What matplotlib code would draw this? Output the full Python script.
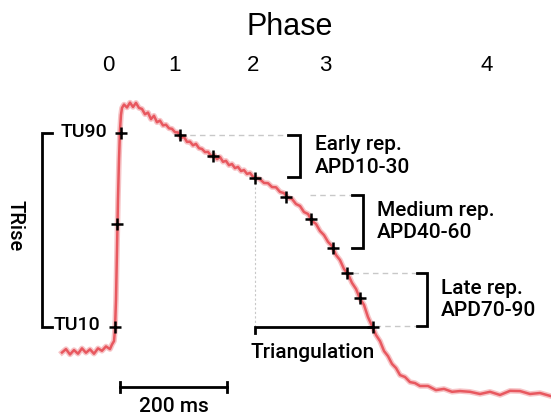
import matplotlib
matplotlib.use("Agg")
import matplotlib.pyplot as plt

# ---- data (time in ms from upstroke, amplitude in % of action potential) ----
trace_t = [-100.9, -93.5, -86.0, -78.5, -71.0, -63.6, -56.1, -48.6, -41.1, -33.6,
           -26.2, -18.7, -11.2, -7.5, -3.7, -1.9, 0.0, 1.9, 3.7, 5.6, 7.5, 9.3, 11.2,
           15.0, 20.6, 26.2, 31.8, 37.4, 43.0, 48.6, 54.2, 59.8, 65.4, 71.0, 76.6,
           82.2, 87.9, 93.5, 99.1, 104.7, 110.3, 115.9, 121.5, 127.1, 132.7, 138.3,
           143.9, 149.5, 155.1, 160.8, 166.4, 172.0, 177.6, 183.2, 188.8, 194.4,
           200.0, 205.6, 211.2, 216.8, 222.4, 228.0, 233.7, 239.3, 244.9, 250.5,
           256.1, 261.7, 269.2, 276.6, 284.1, 291.6, 299.1, 306.5, 314.0, 321.5,
           329.0, 336.5, 343.9, 351.4, 358.9, 366.4, 373.8, 381.3, 388.8, 396.3,
           403.7, 411.2, 418.7, 426.2, 433.7, 441.1, 448.6, 456.1, 463.6, 471.0,
           478.5, 486.0, 493.5, 501.0, 508.4, 515.9, 523.4, 530.9, 540.2, 549.5,
           558.9, 568.2, 583.2, 598.1, 613.1, 628.1, 643.0, 661.7, 680.4, 699.1,
           717.8, 736.5, 755.2, 773.8, 792.5, 813.1]
trace_v = [-0.6, 0.8, -1.4, 0.4, -1.1, 1.1, -0.7, 0.7, -1.1, 1.1,
           0.1, 1.9, 0.8, 2.7, 4.1, 8.7, 21.0, 41.6, 62.3, 78.8, 91.1, 97.3, 100.2,
           101.6, 100.4, 102.4, 100.6, 102.3, 100.2, 99.8, 97.6, 98.3, 95.6, 97.0,
           94.3, 95.0, 93.0, 93.3, 91.8, 91.6, 90.2, 90.1, 87.8, 88.3, 86.2, 86.3,
           84.8, 85.4, 83.6, 83.3, 82.0, 82.1, 80.4, 80.8, 79.1, 80.0, 78.0, 78.4,
           76.6, 77.1, 75.4, 75.9, 74.2, 74.6, 73.0, 73.4, 71.8, 71.3, 70.8, 69.3,
           69.2, 67.6, 67.5, 65.6, 65.1, 63.2, 62.7, 60.6, 59.8, 57.3, 56.5, 53.6,
           52.4, 49.5, 47.8, 45.0, 43.3, 39.6, 37.5, 33.8, 31.7, 28.1, 25.6, 21.6,
           19.0, 14.0, 10.4, 6.6, 4.1, 0.0, -2.1, -5.3, -7.0, -9.9, -10.7, -12.8,
           -13.2, -14.4, -14.4, -16.1, -15.6, -16.8, -16.5, -16.8, -17.7, -16.8,
           -18.1, -16.4, -16.5, -17.7, -17.3, -18.6]

tu_labels = ["TU10", "TU50", "TU90"]
tu_t = [-1.9, 1.9, 9.3]
tu_v = [9.9, 52.4, 89.9]

apd_labels = [10, 20, 30, 40, 50, 60, 70, 80, 90]
apd_t = [119.6, 181.3, 259.8, 317.8, 364.5, 405.6, 431.8, 456.1, 480.4]
apd_v = [89.1, 80.4, 71.3, 63.5, 54.4, 42.5, 32.2, 21.9, 9.9]

phase_labels = ["0", "1", "2", "3", "4"]
phase_t = [-15.0, 110.3, 256.1, 390.7, 693.5]

rep_labels = ["Early rep.\nAPD10-30", "Medium rep.\nAPD40-60", "Late rep.\nAPD70-90"]
rep_top = [89.1, 64.3, 32.2]
rep_bottom = [71.6, 42.5, 10.3]

scalebar_ms = 200

# ---- figure ----
fig = plt.figure(figsize=(5.51, 4.18), dpi=100)
ax = fig.add_axes([0, 0, 1, 1])
ax.set_xlim(-216.8, 813.1)
ax.set_ylim(-27.6, 144.7)
ax.axis("off")

LF = ["Roboto", "DejaVu Sans"]
LW = "medium"
AF = ["Liberation Sans", "DejaVu Sans"]
red = "#e8585f"
gray = "#c8c8c8"

# trace
ax.plot(trace_t, trace_v, color=red, lw=4.0, alpha=0.35, solid_joinstyle="round", zorder=2)
ax.plot(trace_t, trace_v, color=red, lw=1.8, zorder=2)

# phase header
ax.text(325.2, 133.6, "Phase", ha="center", va="center", fontsize=22, family=AF)
for lab, t in zip(phase_labels, phase_t):
    ax.text(t, 117.9, lab, ha="center", va="center", fontsize=16, family=AF)

# TRise bracket
bx, btick = -138.3, -119.6
ax.plot([btick, bx, bx, btick], [tu_v[2], tu_v[2], tu_v[0], tu_v[0]], color="black", lw=2.0,
        solid_joinstyle="miter", zorder=3)
ax.text(-188.8, 51.5, "TRise", rotation=270, ha="center", va="center", fontsize=14.5,
        family=LF, weight=LW)
ax.text(-16.8, 90.1, "TU90", ha="right", va="center", fontsize=14, family=LF, weight=LW)
ax.text(-29.9, 10.7, "TU10", ha="right", va="center", fontsize=14, family=LF, weight=LW)

# dashed guide lines
ax.plot([apd_t[0], 321.5], [apd_v[0], apd_v[0]], ls=(0, (4, 3)), color=gray, lw=1.0, zorder=1)
ax.plot([362.0, 441.1], [rep_top[1], rep_top[1]], ls=(0, (4, 3)), color=gray, lw=1.0, zorder=1)
ax.plot([443.0, 562.6], [rep_top[2], rep_top[2]], ls=(0, (4, 3)), color=gray, lw=1.0, zorder=1)
ax.plot([484.0, 562.6], [rep_bottom[2], rep_bottom[2]], ls=(0, (4, 3)), color=gray, lw=1.0, zorder=1)
ax.plot([apd_t[2], apd_t[2]], [apd_v[2], apd_v[8]], ls=(0, (2, 2)), color=gray, lw=0.8, zorder=1)

# repolarisation brackets
br_x = [343.9, 461.7, 581.3]
br_tick = [321.5, 441.1, 562.6]
txt_x = [371.9, 487.8, 607.5]
for lab, top, bot, x, xt, tx in zip(rep_labels, rep_top, rep_bottom, br_x, br_tick, txt_x):
    ax.plot([xt, x, x, xt], [top, top, bot, bot], color="black", lw=2.0,
            solid_joinstyle="miter", zorder=3)
    ax.text(tx, (top + bot) / 2, lab, ha="left", va="center", fontsize=15,
            family=LF, weight=LW, linespacing=1.25)

# triangulation bar
ax.plot([apd_t[2], apd_t[2], apd_t[8]], [apd_v[8] - 2.4, apd_v[8], apd_v[8]], color="black",
        lw=2.0, solid_joinstyle="miter", zorder=3)
ax.text(368.2, -0.6, "Triangulation", ha="center", va="center", fontsize=15, family=LF,
        weight=LW)

# markers
ax.plot(tu_t, tu_v, ls="none", marker="+", ms=9, mew=1.8, color="black", zorder=4)
ax.plot(apd_t, apd_v, ls="none", marker="+", ms=9, mew=1.8, color="black", zorder=4)

# scale bar
sb0 = 7.5
ax.plot([sb0, sb0 + scalebar_ms], [-14.8, -14.8], color="black", lw=2.0, zorder=3)
ax.plot([sb0, sb0], [-12.7, -16.9], color="black", lw=2.0, zorder=3)
ax.plot([sb0 + scalebar_ms, sb0 + scalebar_ms], [-12.7, -16.9], color="black", lw=2.0, zorder=3)
ax.text(sb0 + scalebar_ms / 2, -22.9, f"{scalebar_ms} ms", ha="center", va="center",
        fontsize=15, family=LF, weight=LW)

fig.savefig("out.png", dpi=100)
